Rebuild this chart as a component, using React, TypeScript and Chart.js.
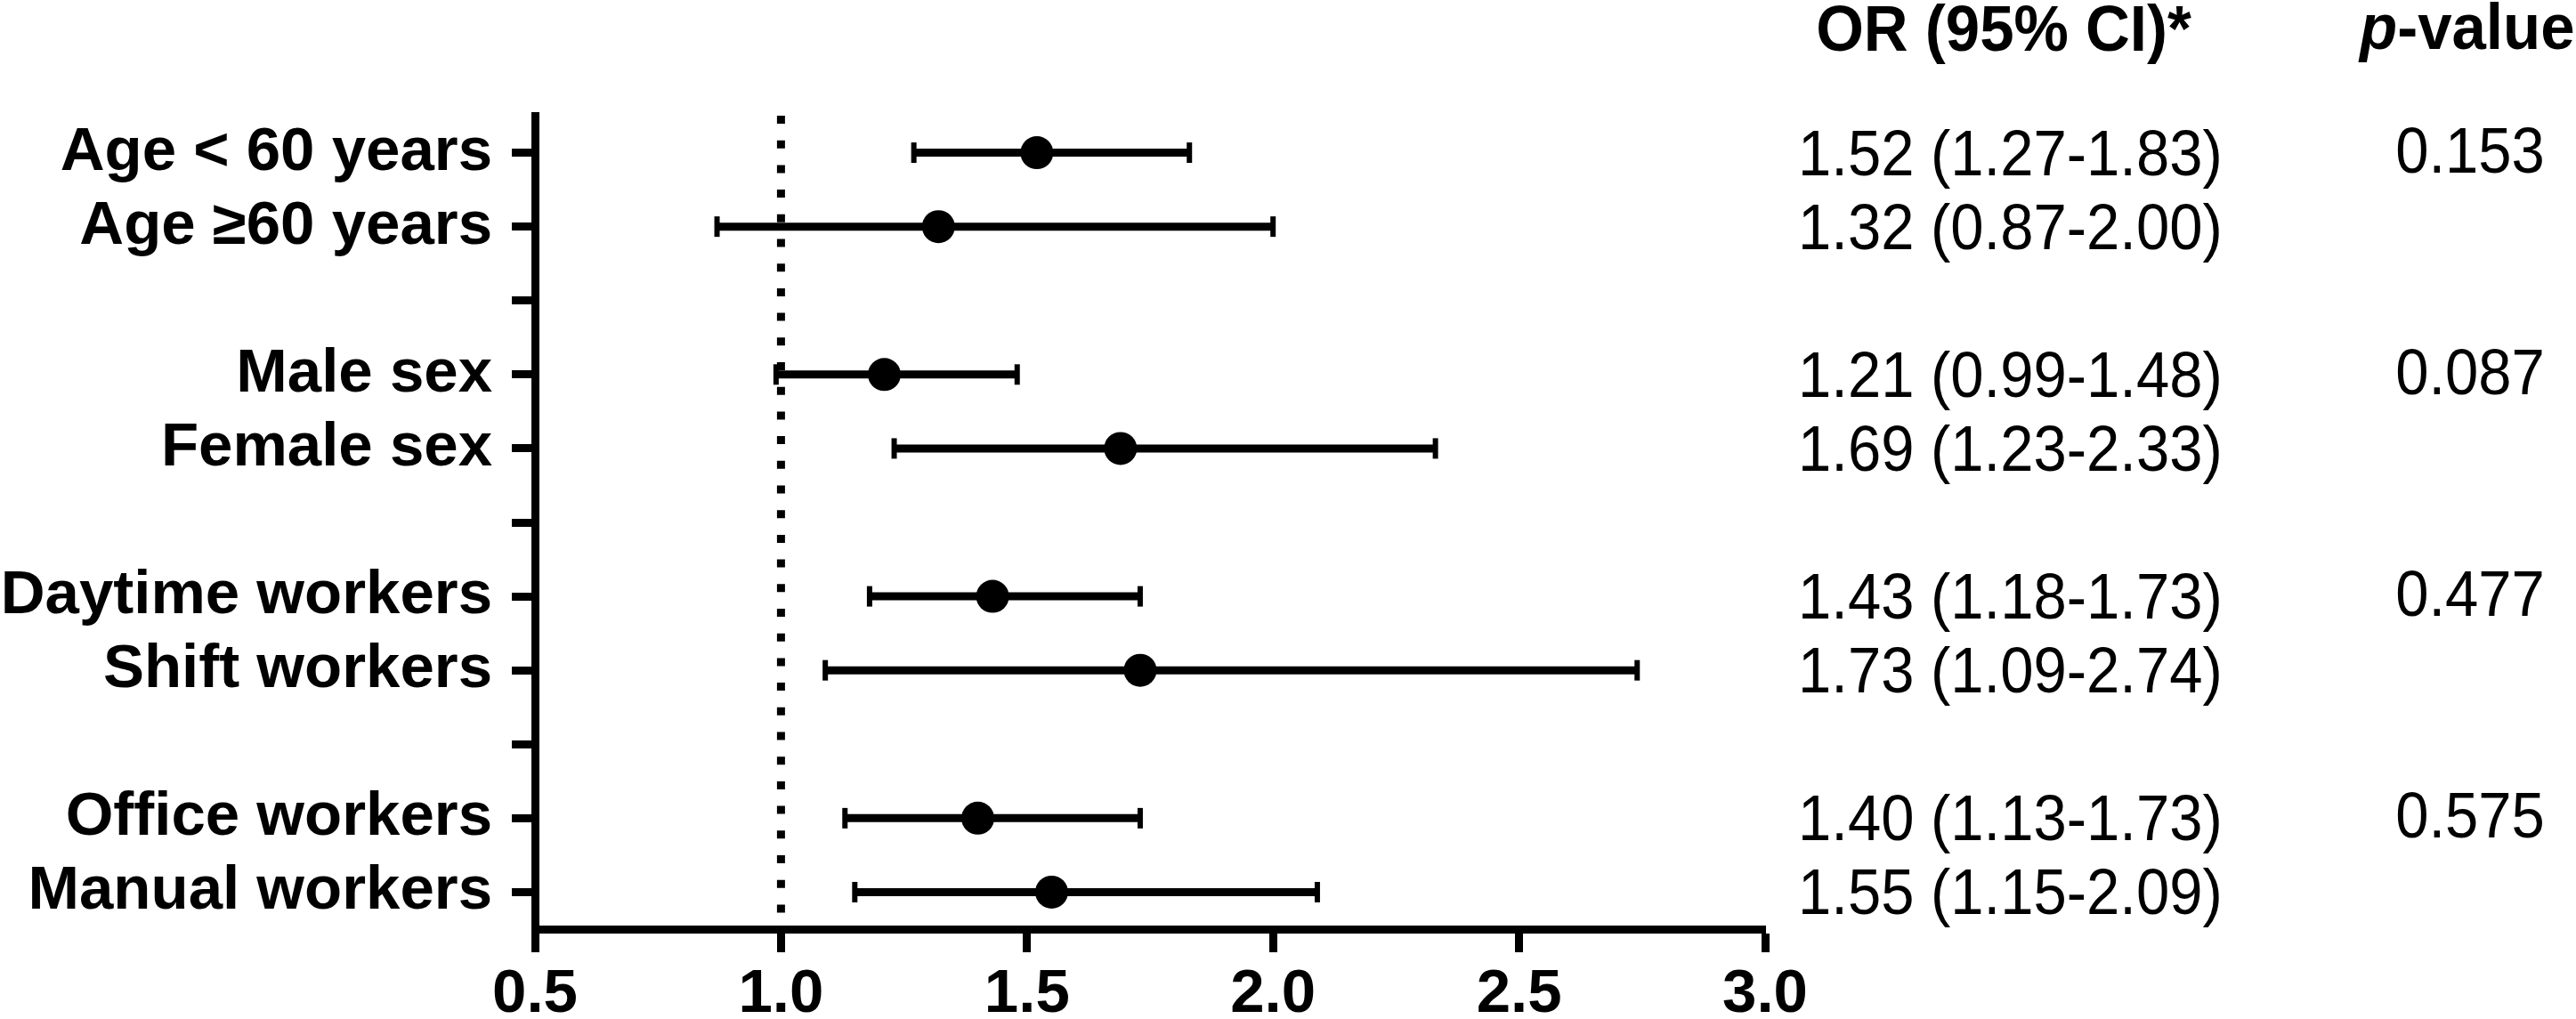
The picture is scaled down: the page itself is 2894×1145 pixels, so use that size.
import React, { useEffect, useRef } from 'react';
import { Chart, registerables } from 'chart.js';

Chart.register(...registerables);

// ---------- data ----------
const subgroups = [
  'Age < 60 years',
  'Age \u226560 years',
  'Male sex',
  'Female sex',
  'Daytime workers',
  'Shift workers',
  'Office workers',
  'Manual workers',
];
const oddsRatios = [1.52, 1.32, 1.21, 1.69, 1.43, 1.73, 1.4, 1.55];
const ciLower = [1.27, 0.87, 0.99, 1.23, 1.18, 1.09, 1.13, 1.15];
const ciUpper = [1.83, 2.0, 1.48, 2.33, 1.73, 2.74, 1.73, 2.09];
const groupPValues = ['0.153', '0.087', '0.477', '0.575'];
const xTickValues = [0.5, 1.0, 1.5, 2.0, 2.5, 3.0];
const referenceOR = 1.0;
const orHeader = 'OR (95% CI)*';
const pHeaderItalic = 'p';
const pHeaderRest = '-value';

// ---------- layout helpers ----------
const FONT = '"Liberation Sans", Arial, Helvetica, sans-serif';
const W = 2894;
const H = 1145;
const rowsPerGroup = 2;
const rowPos = (i: number) => i + Math.floor(i / rowsPerGroup);
const slotCount = subgroups.length + subgroups.length / rowsPerGroup - 1;
const slotLabels: string[] = Array(slotCount).fill('');
subgroups.forEach((s, i) => {
  slotLabels[rowPos(i)] = s;
});

function stretchedText(ctx: any, txt: string, x: number, baseline: number, sy: number) {
  ctx.save();
  ctx.translate(x, baseline);
  ctx.scale(1, sy);
  ctx.fillText(txt, 0, 0);
  ctx.restore();
}

const sidePlugin = {
  id: 'sideText',
  afterDraw(chart: any) {
    const ctx = chart.ctx;
    const y = chart.scales.y;
    ctx.save();
    ctx.fillStyle = '#000';
    ctx.textBaseline = 'alphabetic';

    // headers
    ctx.font = `bold 69px ${FONT}`;
    ctx.textAlign = 'center';
    stretchedText(ctx, orHeader, 2251, 57, 1.05);

    ctx.textAlign = 'left';
    ctx.font = `italic bold 69px ${FONT}`;
    const px = 2651;
    stretchedText(ctx, pHeaderItalic, px, 55, 1.04);
    const pw = ctx.measureText(pHeaderItalic).width;
    ctx.font = `bold 69px ${FONT}`;
    stretchedText(ctx, pHeaderRest, px + pw, 55, 1.04);

    // OR (95% CI) column
    ctx.font = `67px ${FONT}`;
    ctx.textAlign = 'left';
    subgroups.forEach((_, i) => {
      const py = y.getPixelForValue(rowPos(i));
      const txt = `${oddsRatios[i].toFixed(2)} (${ciLower[i].toFixed(2)}-${ciUpper[i].toFixed(2)})`;
      stretchedText(ctx, txt, 2020, py + 25, 1.08);
    });

    // p-values
    ctx.textAlign = 'center';
    groupPValues.forEach((p, g) => {
      const py = y.getPixelForValue(rowPos(g * rowsPerGroup));
      stretchedText(ctx, p, 2775, py + 22, 1.08);
    });
    ctx.restore();
  },
};

export default function App() {
  const ref = useRef<HTMLCanvasElement | null>(null);

  useEffect(() => {
    if (!ref.current) return;
    const black = '#000000';

    const pointData = subgroups.map((_, i) => ({ x: oddsRatios[i], y: rowPos(i) }));
    const whiskers = subgroups.map((_, i) => ({
      type: 'line' as const,
      data: [
        { x: ciLower[i], y: rowPos(i) },
        { x: ciUpper[i], y: rowPos(i) },
      ],
      showLine: true,
      borderColor: black,
      borderWidth: 9,
      borderCapStyle: 'butt' as const,
      pointStyle: 'line' as const,
      pointRotation: 90,
      pointRadius: 11.5,
      pointBorderWidth: 6,
      pointBorderColor: black,
      pointBackgroundColor: black,
      fill: false,
    }));

    const chart = new Chart(ref.current, {
      type: 'scatter',
      data: {
        datasets: [
          {
            data: pointData,
            pointRadius: 18.5,
            pointBackgroundColor: black,
            pointBorderWidth: 0,
            showLine: false,
          } as any,
          ...whiskers,
          {
            type: 'line',
            data: [
              { x: referenceOR, y: -0.5 },
              { x: referenceOR, y: slotCount - 0.5 },
            ],
            showLine: true,
            borderColor: black,
            borderWidth: 9,
            borderDash: [9, 18.7],
            borderCapStyle: 'butt',
            pointRadius: 0,
            fill: false,
          } as any,
        ],
      },
      options: {
        animation: false,
        responsive: false,
        maintainAspectRatio: false,
        devicePixelRatio: 1,
        events: [],
        layout: { padding: { top: 130, right: W - 1983, bottom: 0, left: 0 } },
        plugins: {
          legend: { display: false },
          tooltip: { enabled: false },
          title: { display: false },
        },
        scales: {
          x: {
            type: 'linear',
            min: xTickValues[0],
            max: xTickValues[xTickValues.length - 1],
            afterBuildTicks: (s: any) => {
              s.ticks = xTickValues.map((v) => ({ value: v }));
            },
            afterFit: (s: any) => {
              s.height = H - 1044;
              s.paddingLeft = 0;
              s.paddingRight = 0;
            },
            ticks: {
              callback: (v: any) => Number(v).toFixed(1),
              font: { family: FONT, size: 69, weight: 'bold' },
              color: black,
              padding: 7,
              maxRotation: 0,
              autoSkip: false,
            },
            grid: {
              display: true,
              drawOnChartArea: false,
              drawTicks: true,
              tickLength: 26,
              tickWidth: 9,
              tickColor: black,
            },
            border: { display: true, width: 9, color: black },
          },
          y: {
            type: 'linear',
            reverse: true,
            min: -0.5,
            max: slotCount - 0.5,
            afterBuildTicks: (s: any) => {
              s.ticks = slotLabels.map((_, i) => ({ value: i }));
            },
            afterFit: (s: any) => {
              s.width = 601;
              s.paddingTop = 0;
              s.paddingBottom = 0;
            },
            ticks: {
              callback: (_v: any, idx: number) => slotLabels[idx] ?? '',
              font: { family: FONT, size: 69, weight: 'bold' },
              color: black,
              padding: 22,
              autoSkip: false,
            },
            grid: {
              display: true,
              drawOnChartArea: false,
              drawTicks: true,
              tickLength: 26,
              tickWidth: 9,
              tickColor: black,
            },
            border: { display: true, width: 9, color: black },
          },
        },
      } as any,
      plugins: [sidePlugin],
    });

    return () => chart.destroy();
  }, []);

  return (
    <div style={{ position: 'fixed', left: 0, top: 0, width: W, height: H, background: '#fff' }}>
      <canvas ref={ref} width={W} height={H} style={{ display: 'block', width: W, height: H }} />
    </div>
  );
}
